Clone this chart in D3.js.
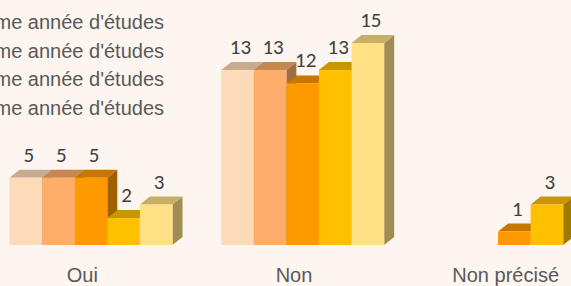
<!DOCTYPE html>
<html>
<head>
<meta charset="utf-8">
<script src="https://cdn.jsdelivr.net/npm/d3@7"></script>
<style>
  html, body { margin: 0; padding: 0; background: #fdf5ef; }
  svg { display: block; }
  .lbl { font-family: "Liberation Sans", Arial, sans-serif; font-size: 20px; fill: #595959; }
  .val { font-family: Carlito, Lato, "Open Sans", sans-serif; font-size: 21px; fill: #404040; }
</style>
</head>
<body>
<div id="chart"></div>
<script>
const categories = ["Oui", "Non", "Non précisé"];
const series = ["1ère année d'études", "2ème année d'études", "3ème année d'études", "4ème année d'études", "5ème année d'études"];
// values per series, in category order (null = no bar)
const s1 = [5, 13, null];
const s2 = [5, 13, null];
const s3 = [5, 12, 1];
const s4 = [2, 13, 3];
const s5 = [3, 15, null];
const values = [s1, s2, s3, s4, s5];
const colors = ["#fddbb8", "#ffad6a", "#ff9900", "#ffc000", "#ffe084"];

const width = 571, height = 286;
const depthX = 10, depthY = 8;

const svg = d3.select("#chart").append("svg")
  .attr("width", width)
  .attr("height", height);

svg.append("rect").attr("width", width).attr("height", height).attr("fill", "#fdf5ef");

const x0 = d3.scaleBand().domain(categories).range([-23.5, 611.5]);
const x1 = d3.scaleBand().domain(d3.range(series.length)).range([0, 163]);
const y = d3.scaleLinear().domain([0, 15]).range([245, 43]);

function shade(c, k) {
  const r = d3.rgb(c);
  return d3.rgb(r.r * k, r.g * k, r.b * k).formatHex();
}

const bars = [];
categories.forEach((cat, ci) => {
  values.forEach((arr, si) => {
    const v = arr[ci];
    if (v == null) return;
    bars.push({cat, si, v});
  });
});

const g = svg.append("g");
bars.forEach(b => {
  const x = x0(b.cat) + 33 + x1(b.si);
  const w = x1.bandwidth();
  const top = y(b.v), base = y(0);
  const col = colors[b.si];
  const bar = g.append("g");
  // side face
  bar.append("path")
    .attr("d", `M${x + w},${top}L${x + w + depthX},${top - depthY}L${x + w + depthX},${base - depthY}L${x + w},${base}Z`)
    .attr("fill", shade(col, 0.63));
  // top face
  bar.append("path")
    .attr("d", `M${x},${top}L${x + depthX},${top - depthY}L${x + w + depthX},${top - depthY}L${x + w},${top}Z`)
    .attr("fill", shade(col, 0.78));
  // front face
  bar.append("rect")
    .attr("x", x).attr("y", top)
    .attr("width", w).attr("height", base - top)
    .attr("fill", col);
});

// value labels
svg.append("g").selectAll("text").data(bars).join("text")
  .attr("class", "val")
  .attr("text-anchor", "middle")
  .attr("x", d => x0(d.cat) + 33 + x1(d.si) + x1.bandwidth() / 2 + 3)
  .attr("y", d => y(d.v) - 16)
  .text(d => d.v);

// category labels
svg.append("g").selectAll("text").data(categories).join("text")
  .attr("class", "lbl")
  .attr("text-anchor", "middle")
  .attr("x", d => x0(d) + x0.bandwidth() / 2)
  .attr("y", 282)
  .text(d => d);

// legend (right-aligned, mostly outside the view like the source)
const legend = svg.append("g");
series.forEach((s, i) => {
  const by = i === 0 ? -6 : 29 + 28.5 * (i - 1);
  legend.append("text")
    .attr("class", "lbl")
    .attr("text-anchor", "end")
    .attr("x", 164)
    .attr("y", by)
    .text(s);
});
</script>
</body>
</html>
